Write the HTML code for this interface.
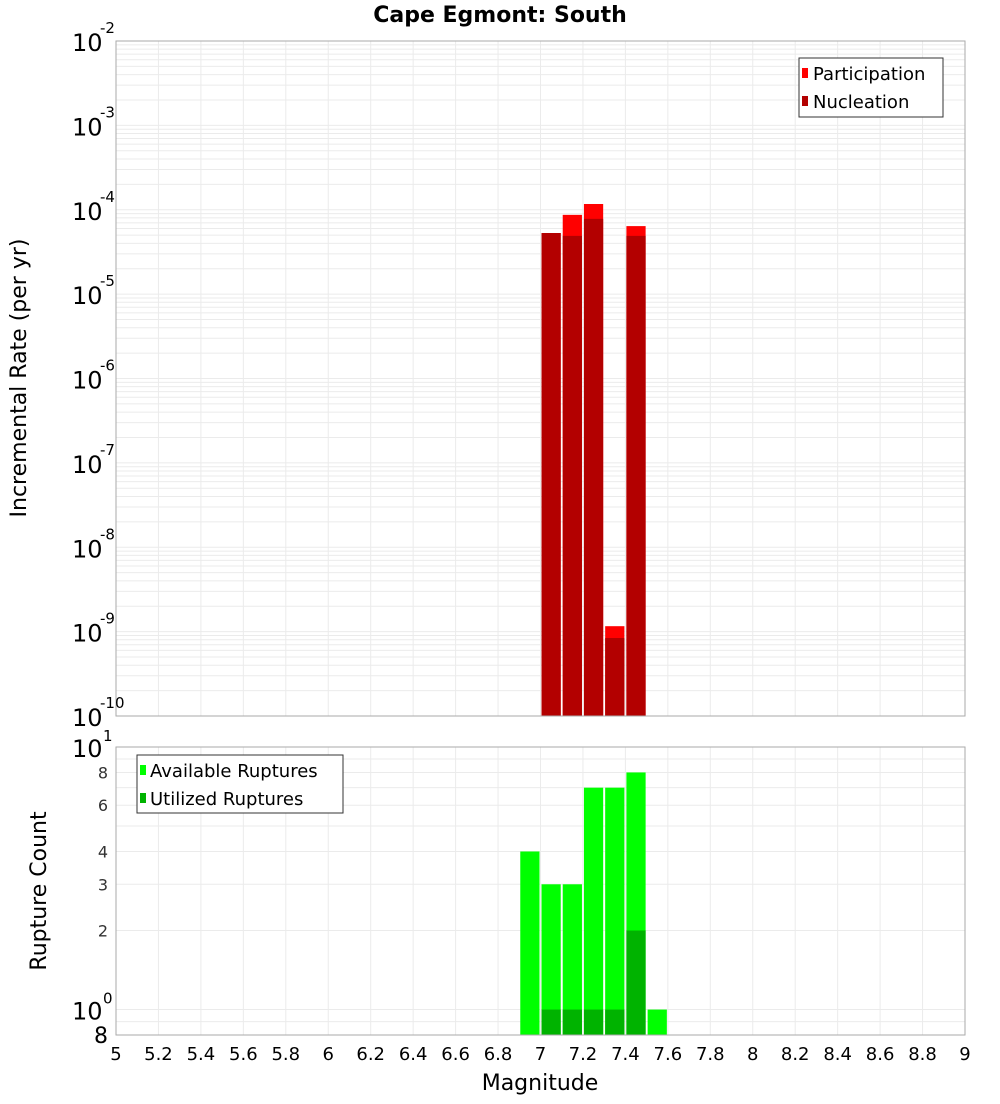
<!DOCTYPE html>
<html><head><meta charset="utf-8"><style>
body{margin:0;background:#fff;font-family:"DejaVu Sans","Liberation Sans",sans-serif}
svg text{font-family:"DejaVu Sans","Liberation Sans",sans-serif}
</style></head><body>
<svg id="chart" width="1000" height="1100" xmlns="http://www.w3.org/2000/svg"></svg>
<script>
const binCenters=[6.95,7.05,7.15,7.25,7.35,7.45,7.55];
const participation=[0,5.3e-5,8.7e-5,1.17e-4,1.16e-9,6.4e-5,0];
const nucleation=[0,5.3e-5,4.9e-5,7.8e-5,8.4e-10,4.9e-5,0];
const available=[4,3,3,7,7,8,1];
const utilized=[0,1,1,1,1,2,0];
const xTicks=[5,5.2,5.4,5.6,5.8,6,6.2,6.4,6.6,6.8,7,7.2,7.4,7.6,7.8,8,8.2,8.4,8.6,8.8,9];
const topExps=[-10,-9,-8,-7,-6,-5,-4,-3,-2];
const botTicks=[2,3,4,6,8];

const S=document.getElementById('chart');const NS='http://www.w3.org/2000/svg';
function el(t,a,txt){const e=document.createElementNS(NS,t);for(const k in a)e.setAttribute(k,a[k]);if(txt!==undefined)e.textContent=txt;S.appendChild(e);return e;}
const X0=116,X1=965,T0=41,T1=716,B0=747,B1=1035;
const x=v=>X0+(v-5)/4*(X1-X0);
const yT=v=>T1-(Math.log10(v)+10)/8*(T1-T0);
const bLo=Math.log10(0.8),bHi=1;
const yB=v=>B1-(Math.log10(v)-bLo)/(bHi-bLo)*(B1-B0);
const bw=(x(5.1)-x(5));

let t=el('text',{x:500,y:22,'text-anchor':'middle','font-size':22,'font-weight':'bold'},'Cape Egmont: South');


// grids
for(const v of xTicks){
 let g=el('line',{x1:x(v),x2:x(v),y1:T0,y2:T1,stroke:'#ebebeb'});
 let g2=el('line',{x1:x(v),x2:x(v),y1:B0,y2:B1,stroke:'#ebebeb'});
}
for(let e=-10;e<-2;e++)for(let m=1;m<10;m++){const yy=yT(m*Math.pow(10,e));
 let g=el('line',{x1:X0,x2:X1,y1:yy,y2:yy,stroke:'#ebebeb'});}
for(const v of [0.8,0.9,1,2,3,4,5,6,7,8,9]){const yy=yB(v);
 let g=el('line',{x1:X0,x2:X1,y1:yy,y2:yy,stroke:'#ebebeb'});}

// top bars
binCenters.forEach((c,i)=>{
 if(participation[i]>0){let r=el('rect',{x:x(c-0.05)+1,y:yT(participation[i]),width:bw-2,height:T1-yT(participation[i]),fill:'#ff0000'});}
 if(nucleation[i]>0){let r=el('rect',{x:x(c-0.05)+1,y:yT(nucleation[i]),width:bw-2,height:T1-yT(nucleation[i]),fill:'#b30000'});}
 if(available[i]>0){let r=el('rect',{x:x(c-0.05)+1,y:yB(available[i]),width:bw-2,height:B1-yB(available[i]),fill:'#00ff00'});}
 if(utilized[i]>0){let r=el('rect',{x:x(c-0.05)+1,y:yB(utilized[i]),width:bw-2,height:B1-yB(utilized[i]),fill:'#00b300'});}
});

let f1=el('rect',{x:X0,y:T0,width:X1-X0,height:T1-T0,fill:'none',stroke:'#aaa'});
let f2=el('rect',{x:X0,y:B0,width:X1-X0,height:B1-B0,fill:'none',stroke:'#aaa'});

// top y labels
for(const e of topExps){const yy=yT(Math.pow(10,e));
 let a=el('text',{x:72,y:yy+10,'font-size':24},'10');
 let b=el('text',{x:100,y:yy-8,'font-size':15},String(e));}
// bottom y labels
[[10,'1'],[1,'0']].forEach(([v,ex])=>{const yy=yB(v);
 let a=el('text',{x:72,y:yy+10,'font-size':24},'10');
 let b=el('text',{x:103,y:yy-6,'font-size':15},ex);});
for(const v of botTicks){let a=el('text',{x:108,y:yB(v)+6,'font-size':16,'text-anchor':'end',fill:'#333'},String(v));}
let b8=el('text',{x:108,y:yB(0.8)+8,'font-size':22,'text-anchor':'end'},'8');

for(const v of xTicks){let a=el('text',{x:x(v),y:1060,'font-size':18,'text-anchor':'middle'},String(v));}
let xl=el('text',{x:540,y:1090,'font-size':22,'text-anchor':'middle'},'Magnitude');
let yl=el('text',{x:26,y:378,'font-size':22,'text-anchor':'middle',transform:'rotate(-90 26 378)'},'Incremental Rate (per yr)');
let yl2=el('text',{x:46,y:891,'font-size':22,'text-anchor':'middle',transform:'rotate(-90 46 891)'},'Rupture Count');

// legends
let lg=el('rect',{x:799,y:58,width:144,height:59,fill:'#fff',stroke:'#333'});
let s1=el('rect',{x:802,y:68,width:6,height:10,fill:'#ff0000'});
let l1=el('text',{x:813,y:80,'font-size':18},'Participation');
let s2=el('rect',{x:802,y:96,width:6,height:10,fill:'#b30000'});
let l2=el('text',{x:813,y:108,'font-size':18},'Nucleation');
let lg2=el('rect',{x:137,y:755,width:206,height:58,fill:'#fff',stroke:'#333'});
let s3=el('rect',{x:140,y:765,width:6,height:10,fill:'#00ff00'});
let l3=el('text',{x:150,y:777,'font-size':18},'Available Ruptures');
let s4=el('rect',{x:140,y:793,width:6,height:10,fill:'#00b300'});
let l4=el('text',{x:150,y:805,'font-size':18},'Utilized Ruptures');
</script>
</body></html>
